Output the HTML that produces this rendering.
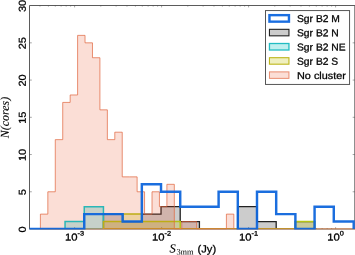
<!DOCTYPE html><html><head><meta charset="utf-8"><style>html,body{margin:0;padding:0;background:#fff;}svg{display:block;}</style></head><body><svg width="355" height="255" viewBox="0 0 355 255" text-rendering="geometricPrecision">
<rect width="355" height="255" fill="#fff"/>
<defs><clipPath id="ax"><rect x="29.6" y="5.6" width="325.25" height="223.4"/></clipPath><clipPath id="ax2"><rect x="29.6" y="5.6" width="325.25" height="223.85"/></clipPath></defs>
<rect x="29.6" y="5.6" width="325.25" height="223.4" fill="none" stroke="#333" stroke-width="0.8"/>
<path d="M39.98,229.0 v-1.0 M39.98,5.6 v1.0 M48.41,229.0 v-1.0 M48.41,5.6 v1.0 M55.30,229.0 v-1.0 M55.30,5.6 v1.0 M61.12,229.0 v-1.0 M61.12,5.6 v1.0 M66.17,229.0 v-1.0 M66.17,5.6 v1.0 M70.62,229.0 v-1.0 M70.62,5.6 v1.0 M74.60,229.0 v-1.8 M74.60,5.6 v1.8 M100.79,229.0 v-1.0 M100.79,5.6 v1.0 M116.11,229.0 v-1.0 M116.11,5.6 v1.0 M126.98,229.0 v-1.0 M126.98,5.6 v1.0 M135.41,229.0 v-1.0 M135.41,5.6 v1.0 M142.30,229.0 v-1.0 M142.30,5.6 v1.0 M148.12,229.0 v-1.0 M148.12,5.6 v1.0 M153.17,229.0 v-1.0 M153.17,5.6 v1.0 M157.62,229.0 v-1.0 M157.62,5.6 v1.0 M161.60,229.0 v-1.8 M161.60,5.6 v1.8 M187.79,229.0 v-1.0 M187.79,5.6 v1.0 M203.11,229.0 v-1.0 M203.11,5.6 v1.0 M213.98,229.0 v-1.0 M213.98,5.6 v1.0 M222.41,229.0 v-1.0 M222.41,5.6 v1.0 M229.30,229.0 v-1.0 M229.30,5.6 v1.0 M235.12,229.0 v-1.0 M235.12,5.6 v1.0 M240.17,229.0 v-1.0 M240.17,5.6 v1.0 M244.62,229.0 v-1.0 M244.62,5.6 v1.0 M248.60,229.0 v-1.8 M248.60,5.6 v1.8 M274.79,229.0 v-1.0 M274.79,5.6 v1.0 M290.11,229.0 v-1.0 M290.11,5.6 v1.0 M300.98,229.0 v-1.0 M300.98,5.6 v1.0 M309.41,229.0 v-1.0 M309.41,5.6 v1.0 M316.30,229.0 v-1.0 M316.30,5.6 v1.0 M322.12,229.0 v-1.0 M322.12,5.6 v1.0 M327.17,229.0 v-1.0 M327.17,5.6 v1.0 M331.62,229.0 v-1.0 M331.62,5.6 v1.0 M335.60,229.0 v-1.8 M335.60,5.6 v1.8 M29.6,191.77 h2.2 M354.85,191.77 h-2.2 M29.6,154.53 h2.2 M354.85,154.53 h-2.2 M29.6,117.30 h2.2 M354.85,117.30 h-2.2 M29.6,80.07 h2.2 M354.85,80.07 h-2.2 M29.6,42.83 h2.2 M354.85,42.83 h-2.2" stroke="#444" stroke-width="0.6" stroke-opacity="0.8" fill="none"/>
<g clip-path="url(#ax)" stroke-linejoin="miter">
<path d="M103.44,229.00 L103.44,214.11 L122.63,214.11 L122.63,221.55 L141.83,221.55 L141.83,214.11 L161.02,214.11 L161.02,206.66 L180.22,206.66 L180.22,221.55 L199.42,221.55 L199.42,229.00 L218.61,229.00 L218.61,229.00 L237.81,229.00 L237.81,206.66 L257.00,206.66 L257.00,221.55 L276.19,221.55 L276.19,229.00 L295.39,229.00 L295.39,221.55 L314.58,221.55 L314.58,229.00 Z" fill="#000" fill-opacity="0.2" stroke="#222" stroke-width="1.3"/>
<path d="M65.05,229.00 L65.05,221.55 L84.25,221.55 L84.25,206.66 L103.44,206.66 L103.44,229.00 Z" fill="#00bfbf" fill-opacity="0.25" stroke="#00d0da" stroke-width="1.5"/>
<path d="M103.44,229.00 L103.44,221.55 L122.63,221.55 L122.63,214.11 L141.83,214.11 L141.83,221.55 L161.02,221.55 L161.02,221.55 L180.22,221.55 L180.22,229.00 L199.42,229.00 L199.42,229.00 L218.61,229.00 L218.61,229.00 L237.81,229.00 L237.81,229.00 L257.00,229.00 L257.00,229.00 L276.19,229.00 L276.19,229.00 L295.39,229.00 L295.39,221.55 L314.58,221.55 L314.58,229.00 Z" fill="#bfbf00" fill-opacity="0.25" stroke="#b4c414" stroke-width="1.5"/>
</g><g clip-path="url(#ax2)" stroke-linejoin="miter">
<path d="M40.40,229.00 L40.40,214.11 L47.84,214.11 L47.84,191.77 L55.28,191.77 L55.28,139.64 L62.72,139.64 L62.72,102.41 L70.16,102.41 L70.16,94.96 L77.60,94.96 L77.60,35.39 L85.04,35.39 L85.04,42.83 L92.48,42.83 L92.48,57.73 L99.92,57.73 L99.92,109.85 L107.36,109.85 L107.36,139.64 L114.80,139.64 L114.80,132.19 L122.24,132.19 L122.24,176.87 L129.68,176.87 L129.68,176.87 L137.12,176.87 L137.12,191.77 L144.56,191.77 L144.56,214.11 L152.00,214.11 L152.00,191.77 L159.44,191.77 L159.44,206.66 L166.88,206.66 L166.88,184.32 L174.32,184.32 L174.32,229.00 L181.76,229.00 L181.76,221.55 L189.20,221.55 L189.20,221.55 L196.64,221.55 L196.64,229.00 L204.08,229.00 L204.08,229.00 L211.52,229.00 L211.52,229.00 L218.96,229.00 L218.96,229.00 L226.40,229.00 L226.40,214.11 L233.84,214.11 L233.84,229.00 Z M233.84,229.0 L357.85,229.0" fill="#e8481a" fill-opacity="0.18" stroke="#e0643c" stroke-opacity="0.7" stroke-width="1"/>
<path d="M40.40,229.0 L357.85,229.0" fill="none" stroke="#f0a040" stroke-opacity="0.5" stroke-width="1"/>
</g>
<g clip-path="url(#ax2)"><path d="M24.60,229.00 L84.25,229.00 L84.25,214.11 L103.44,214.11 L103.44,214.11 L122.63,214.11 L122.63,221.55 L141.83,221.55 L141.83,184.32 L161.02,184.32 L161.02,191.77 L180.22,191.77 L180.22,206.66 L199.42,206.66 L199.42,206.66 L218.61,206.66 L218.61,191.77 L237.81,191.77 L237.81,229.00 L257.00,229.00 L257.00,191.77 L276.19,191.77 L276.19,214.11 L295.39,214.11 L295.39,229.00 L314.58,229.00 L314.58,206.66 L333.78,206.66 L333.78,221.55 L353.70,221.55 L353.70,229.00" fill="none" stroke="#0f66dc" stroke-opacity="0.95" stroke-width="2.45" stroke-linejoin="miter"/></g>
<rect x="265.5" y="10.6" width="84.10000000000002" height="73.80000000000001" fill="#fff" stroke="#444" stroke-width="0.9"/>
<rect x="269.45" y="15.15" width="19.5" height="6.5" fill="#fff" fill-opacity="1" stroke="#1a6ee0" stroke-opacity="1" stroke-width="2.4"/>
<rect x="269.45" y="29.33" width="19.5" height="6.5" fill="#000" fill-opacity="0.2" stroke="#222" stroke-opacity="1" stroke-width="1.1"/>
<rect x="269.45" y="43.51" width="19.5" height="6.5" fill="#00bfbf" fill-opacity="0.25" stroke="#22bcc2" stroke-opacity="1" stroke-width="1.3"/>
<rect x="269.45" y="57.69" width="19.5" height="6.5" fill="#bfbf00" fill-opacity="0.25" stroke="#bdb61c" stroke-opacity="1" stroke-width="1.1"/>
<rect x="269.45" y="71.87" width="19.5" height="6.5" fill="#e8481a" fill-opacity="0.18" stroke="#e0643c" stroke-opacity="0.7" stroke-width="1.0"/>
<g opacity="0.996" stroke="#000" stroke-width="0.3" stroke-linejoin="round">
<g font-family="Liberation Sans, sans-serif" font-size="10" fill="#000">
<text transform="translate(25.7,229.35) rotate(-90.03) scale(1.1,1)" text-anchor="middle">0</text>
<text transform="translate(25.7,192.12) rotate(-90.03) scale(1.1,1)" text-anchor="middle">5</text>
<text transform="translate(25.7,154.88) rotate(-90.03) scale(1.1,1)" text-anchor="middle">10</text>
<text transform="translate(25.7,117.65) rotate(-90.03) scale(1.1,1)" text-anchor="middle">15</text>
<text transform="translate(25.7,80.42) rotate(-90.03) scale(1.1,1)" text-anchor="middle">20</text>
<text transform="translate(25.7,43.18) rotate(-90.03) scale(1.1,1)" text-anchor="middle">25</text>
<text transform="translate(25.7,5.95) rotate(-90.03) scale(1.1,1)" text-anchor="middle">30</text>
<text transform="translate(74.60,240.5) rotate(0.03) scale(1.13,1)" x="0" text-anchor="middle">10<tspan font-size="6.5" dy="-5.1">-3</tspan></text>
<text transform="translate(161.60,240.5) rotate(0.03) scale(1.13,1)" x="0" text-anchor="middle">10<tspan font-size="6.5" dy="-5.1">-2</tspan></text>
<text transform="translate(248.60,240.5) rotate(0.03) scale(1.13,1)" x="0" text-anchor="middle">10<tspan font-size="6.5" dy="-5.1">-1</tspan></text>
<text transform="translate(335.60,240.5) rotate(0.03) scale(1.13,1)" x="0" text-anchor="middle">10<tspan font-size="6.5" dy="-5.1">0</tspan></text>
</g>
<text transform="translate(8.7,117.6) rotate(-90.03)" stroke-width="0.1" text-anchor="middle" font-family="Liberation Serif, serif" font-style="italic" font-size="12" fill="#000">N(cores)</text>
<text transform="translate(169.6,252.6) rotate(0.03)" stroke-width="0.12" font-family="Liberation Serif, serif" font-style="italic" font-size="12.5" fill="#000">S</text><text transform="translate(176.4,254.6) rotate(0.03)" stroke-width="0.05" font-family="Liberation Serif, serif" font-size="8.3" fill="#000">3mm</text><text transform="translate(197.6,252.6) rotate(0.03) scale(1.06,1)" font-family="Liberation Sans, sans-serif" font-size="10.5" fill="#000">(Jy)</text>
<text transform="translate(297.0,22.00) rotate(0.03) scale(1.03,1)" font-family="Liberation Sans, sans-serif" font-size="10" fill="#000">Sgr B2 M</text>
<text transform="translate(297.0,36.25) rotate(0.03) scale(1.03,1)" font-family="Liberation Sans, sans-serif" font-size="10" fill="#000">Sgr B2 N</text>
<text transform="translate(297.0,50.50) rotate(0.03) scale(1.03,1)" font-family="Liberation Sans, sans-serif" font-size="10" fill="#000">Sgr B2 NE</text>
<text transform="translate(297.0,64.75) rotate(0.03) scale(1.03,1)" font-family="Liberation Sans, sans-serif" font-size="10" fill="#000">Sgr B2 S</text>
<text transform="translate(297.0,79.00) rotate(0.03) scale(1.085,1)" font-family="Liberation Sans, sans-serif" font-size="10" fill="#000">No cluster</text>
</g>
</svg></body></html>
